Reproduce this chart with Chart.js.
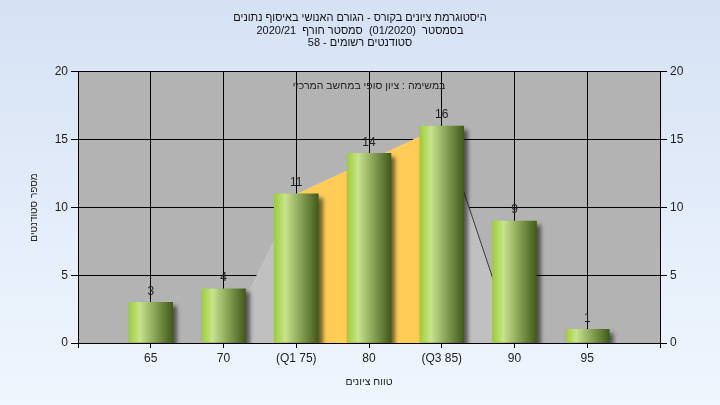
<!DOCTYPE html>
<html><head><meta charset="utf-8">
<script src="https://cdn.jsdelivr.net/npm/chart.js@4.4.1/dist/chart.umd.min.js"></script>
<style>html,body{margin:0;padding:0;background:#e4edf9;}#wrap{width:720px;height:405px;}</style>
</head><body><div id="wrap"><canvas id="c" width="720" height="405"></canvas></div>
<script>
const titleLines = [
  'היסטוגרמת ציונים בקורס - הגורם האנושי באיסוף נתונים',
  'בסמסטר  (01/2020)  סמסטר חורף  2020/21',
  'סטודנטים רשומים - 58'
];
const annotationText = 'במשימה : ציון סופי במחשב המרכזי';
const xTitle = 'טווח ציונים';
const yTitle = 'מספר סטודנטים';
const categories = [65, 70, 75, 80, 85, 90, 95];
const tickLabels = ['65', '70', '(Q1 75)', '80', '(Q3 85)', '90', '95'];
const studentCounts = [3, 4, 11, 14, 16, 9, 1];
const distX = [70, 75, 85, 90];
const distY = [0, 11, 16, 0];
const iqrX = [75, 85];
const iqrY = [11, 16];
const tailX = [85, 90];
const tailY = [16, 0];
const xMin = 60, xMax = 100, xStep = 5;
const yMin = 0, yMax = 20, yStep = 5;

const FONT = 'Liberation Sans, Arial, sans-serif';
const pts = (xs, ys) => xs.map((x, i) => ({x: x, y: ys[i]}));
const labelFor = v => { const i = categories.indexOf(v); return i >= 0 ? tickLabels[i] : ''; };

const bgPlugin = {
  id: 'bg',
  beforeDraw(chart) {
    const {ctx, chartArea: a, width, height} = chart;
    ctx.save();
    const g = ctx.createLinearGradient(0, 0, 0, height);
    g.addColorStop(0, '#d5e2f4');
    g.addColorStop(1, '#f0f6fe');
    ctx.fillStyle = g;
    ctx.fillRect(0, 0, width, height);
    ctx.fillStyle = '#b3b3b3';
    ctx.fillRect(a.left, a.top, a.right - a.left, a.bottom - a.top);
    ctx.restore();
  },
  beforeDatasetDraw(chart, args) {
    if (args.meta.type === 'bar') {
      const ctx = chart.ctx;
      ctx.save();
      ctx.shadowColor = 'rgba(0,0,0,0.55)';
      ctx.shadowOffsetX = 4;
      ctx.shadowOffsetY = 4;
      ctx.shadowBlur = 4;
    }
  },
  afterDatasetDraw(chart, args) {
    if (args.meta.type === 'bar') chart.ctx.restore();
  },
  afterDatasetsDraw(chart) {
    const ctx = chart.ctx;
    const a = chart.chartArea;
    ctx.save();
    ctx.fillStyle = '#222';
    ctx.textAlign = 'center';
    ctx.textBaseline = 'middle';
    ctx.font = '10.5px ' + FONT;
    ctx.fillText(annotationText, (a.left + a.right) / 2, a.top + 14);
    ctx.font = '12px ' + FONT;
    chart.data.datasets.forEach((ds, di) => {
      if (ds.type !== 'bar') return;
      const meta = chart.getDatasetMeta(di);
      meta.data.forEach((el, i) => {
        ctx.textBaseline = 'bottom';
        ctx.fillText(String(studentCounts[i]), el.x, el.y - 5);
      });
    });
    ctx.restore();
  }
};

const barGradient = (c) => {
  const chart = c.chart;
  if (!chart.chartArea || c.type !== 'data') return '#9fcf3a';
  const xp = chart.scales.x.getPixelForValue(categories[c.dataIndex]);
  const g = chart.ctx.createLinearGradient(xp - 22, 0, xp + 22, 0);
  g.addColorStop(0, '#9ccd38');
  g.addColorStop(0.25, '#c8e38e');
  g.addColorStop(0.6, '#87a356');
  g.addColorStop(1, '#42591b');
  return g;
};

new Chart(document.getElementById('c'), {
  data: {
    datasets: [
      {
        type: 'bar', order: 0,
        data: pts(categories, studentCounts),
        backgroundColor: barGradient,
        borderWidth: 0,
        barThickness: 44
      },
      {
        type: 'line', order: 1,
        data: pts(tailX, tailY),
        borderColor: '#3a3a3a', borderWidth: 1,
        pointRadius: 0, fill: false, tension: 0
      },
      {
        type: 'line', order: 2,
        data: pts(iqrX, iqrY),
        borderWidth: 0, borderColor: 'rgba(0,0,0,0)',
        backgroundColor: '#ffcc55',
        pointRadius: 0, fill: 'origin', tension: 0
      },
      {
        type: 'line', order: 3,
        data: pts(distX, distY),
        borderWidth: 0, borderColor: 'rgba(0,0,0,0)',
        backgroundColor: '#c0c0c0',
        pointRadius: 0, fill: 'origin', tension: 0
      }
    ]
  },
  options: {
    responsive: false,
    animation: false,
    devicePixelRatio: 1,
    layout: {padding: {left: 0, right: 0, top: 0, bottom: 0}},
    plugins: {
      legend: {display: false},
      tooltip: {enabled: false},
      title: {
        display: true,
        text: titleLines,
        color: '#111',
        font: {family: FONT, size: 11, weight: 'normal', lineHeight: 1.18},
        padding: {top: 11, bottom: 22}
      }
    },
    scales: {
      x: {
        type: 'linear', min: xMin, max: xMax, offset: false,
        ticks: {
          stepSize: xStep, autoSkip: false, maxRotation: 0,
          callback: v => labelFor(v),
          color: '#222', font: {family: FONT, size: 12}, padding: 3
        },
        grid: {offset: false, color: '#000', lineWidth: 1, tickLength: 5, tickColor: '#000'},
        border: {display: true, color: '#000', width: 1},
        title: {
          display: true, text: xTitle, color: '#222',
          font: {family: FONT, size: 10.5, lineHeight: 1.2},
          padding: {top: 0, bottom: 17}
        },
        afterFit: s => { s.height = 62; }
      },
      y: {
        position: 'left', min: yMin, max: yMax,
        ticks: {stepSize: yStep, color: '#222', font: {family: FONT, size: 12}, padding: 3},
        grid: {color: '#000', lineWidth: 1, tickLength: 7, tickColor: '#000'},
        border: {display: true, color: '#000', width: 1},
        title: {
          display: true, text: yTitle, color: '#222',
          font: {family: FONT, size: 10, lineHeight: 1.2},
          padding: {top: 28, bottom: 0}
        },
        afterFit: s => { s.width = 78; }
      },
      y2: {
        position: 'right', min: yMin, max: yMax,
        ticks: {stepSize: yStep, color: '#222', font: {family: FONT, size: 12}, padding: 3},
        grid: {drawOnChartArea: false, color: '#000', lineWidth: 1, tickLength: 7, tickColor: '#000'},
        border: {display: true, color: '#000', width: 1},
        afterFit: s => { s.width = 60; }
      }
    }
  },
  plugins: [bgPlugin]
});
</script>
</body></html>
